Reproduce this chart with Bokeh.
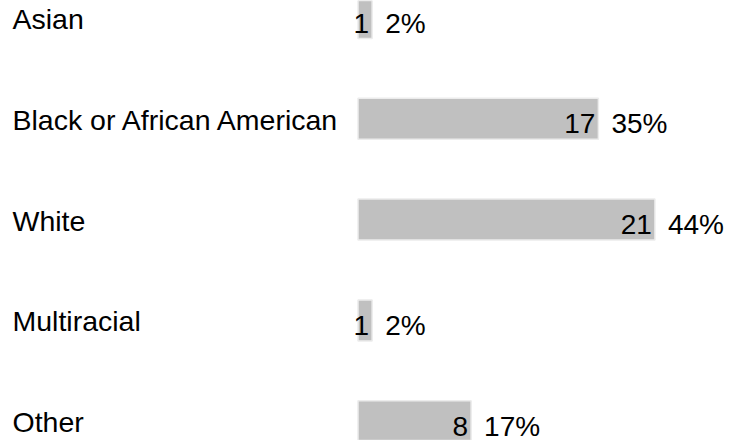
from bokeh.plotting import figure
from bokeh.models import ColumnDataSource, Range1d
from bokeh.core.properties import value
from bokeh.embed import file_html
from bokeh.resources import INLINE

categories = ["Asian", "Black or African American", "White", "Multiracial", "Other"]
counts = [1, 17, 21, 1, 8]
percents = ["2%", "35%", "44%", "2%", "17%"]

positions = list(range(len(categories)))

W, H = 731, 440
px_per_unit = 14.14
zero_px = 357.5
row_px = 100.8
first_row_px = 17.5

x0 = -zero_px / px_per_unit
x1 = (W - zero_px) / px_per_unit
y_top = -first_row_px / row_px
y_bottom = (H - first_row_px) / row_px

src = ColumnDataSource(dict(
    y=positions,
    cat=categories,
    count=counts,
    count_str=[str(c) for c in counts],
    pct=percents,
))

p = figure(width=W, height=H, x_range=Range1d(x0, x1), y_range=Range1d(y_bottom, y_top),
           output_backend="svg", toolbar_location=None, min_border=0,
           background_fill_color="white", border_fill_color="white")
p.axis.visible = False
p.grid.visible = False
p.outline_line_color = None

p.hbar(y="y", left=0, right="count", height=41 / row_px, source=src,
       fill_color="#c0c0c0", line_color="#ececec", line_width=1.5)

font = value("Liberation Sans")
p.text(x=x0, y="y", text="cat", source=src, x_offset=12, y_offset=1,
       text_align="left", text_baseline="alphabetic", text_font=font,
       text_font_size="28.5px", text_color="#000000")
p.text(x="count", y="y", text="count_str", source=src, x_offset=-3, y_offset=5,
       text_align="right", text_baseline="alphabetic", text_font=font,
       text_font_size="28px", text_color="#000000")
p.text(x="count", y="y", text="pct", source=src, x_offset=13, y_offset=5,
       text_align="left", text_baseline="alphabetic", text_font=font,
       text_font_size="28px", text_color="#000000")

open("out.html", "w").write(file_html(p, INLINE))
